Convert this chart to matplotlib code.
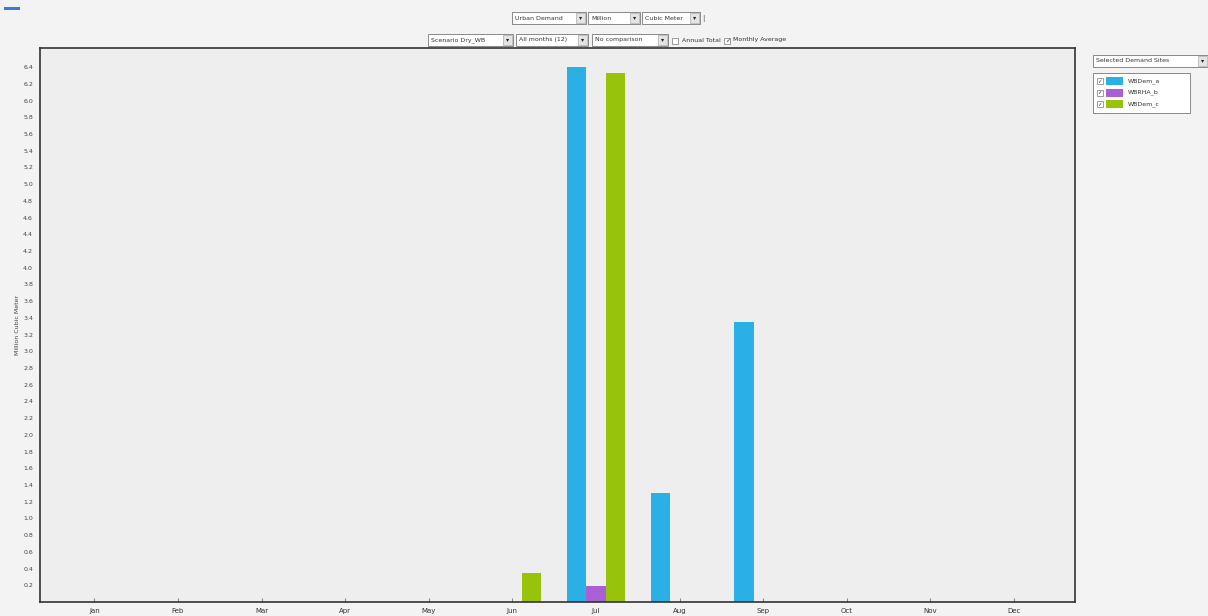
import matplotlib
matplotlib.use("Agg")
import matplotlib.pyplot as plt
from matplotlib.patches import Rectangle
import numpy as np

months = ["Jan", "Feb", "Mar", "Apr", "May", "Jun", "Jul", "Aug", "Sep", "Oct", "Nov", "Dec"]
series_names = ["WBDem_a", "WBRHA_b", "WBDem_c"]
series_a = [0, 0, 0, 0, 0, 0, 6.40, 1.31, 3.35, 0, 0, 0]
series_b = [0, 0, 0, 0, 0, 0, 0.19, 0, 0, 0, 0, 0]
series_c = [0, 0, 0, 0, 0, 0.35, 6.33, 0, 0, 0, 0, 0]
colors = ["#2bb0e6", "#a95fd6", "#97c40a"]
y_ticks = [round(0.2 * i, 1) for i in range(1, 33)]

W, H = 1208, 616
fig = plt.figure(figsize=(W / 100, H / 100), dpi=100, facecolor="#f3f3f3")

def fx(px):
    return px / W

def fy(py):
    return 1 - py / H

ax = fig.add_axes([fx(40), fy(602), fx(1075 - 40), (602 - 48) / H])
ax.set_facecolor("#eeeeee")
x = np.arange(len(months))
bw = 0.23
for i, (vals, c) in enumerate(zip([series_a, series_b, series_c], colors)):
    ax.bar(x + (i - 1) * bw, vals, width=bw, color=c, edgecolor="none")
ax.set_xlim(-0.65, 11.73)
ax.set_ylim(0, 6.63)
ax.set_xticks(x)
ax.set_xticklabels(months, fontsize=5, color="#333333")
ax.set_yticks(y_ticks)
ax.set_yticklabels([f"{v:.1f}" for v in y_ticks], fontsize=4.5, color="#444444")
ax.tick_params(axis="x", direction="in", length=3, pad=4, color="#888888")
ax.tick_params(axis="y", direction="out", length=0, pad=5)
for s in ax.spines.values():
    s.set_color("#333333")
    s.set_linewidth(1.2)
ax.set_ylabel("Million Cubic Meter", fontsize=4.5, color="#444444", labelpad=2)

# header controls
def box(x0, y0, w, h, text, arrow=True, fs=4.5):
    fig.patches.append(Rectangle((fx(x0), fy(y0 + h)), w / W, h / H, transform=fig.transFigure,
                                 facecolor="white", edgecolor="#777777", lw=0.6))
    fig.text(fx(x0 + 3), fy(y0 + h / 2), text, fontsize=fs, va="center", ha="left", color="#333333")
    if arrow:
        fig.patches.append(Rectangle((fx(x0 + w - 10), fy(y0 + h - 1)), 9 / W, (h - 2) / H,
                                     transform=fig.transFigure, facecolor="#e4e4e4",
                                     edgecolor="#999999", lw=0.4))
        fig.text(fx(x0 + w - 5.5), fy(y0 + h / 2), "▾", fontsize=4.5, va="center", ha="center", color="#222222")

box(512, 12, 74, 12, "Urban Demand")
box(588, 12, 52, 12, "Million")
box(642, 12, 58, 12, "Cubic Meter")
fig.text(fx(702), fy(18), "|", fontsize=5, va="center", color="#555555")
box(428, 34, 85, 12, "Scenario Dry_WB")
box(516, 34, 72, 12, "All months (12)")
box(592, 34, 76, 12, "No comparison")
fig.patches.append(Rectangle((fx(672), fy(44)), 6 / W, 6 / H, transform=fig.transFigure,
                             facecolor="white", edgecolor="#777777", lw=0.5))
fig.text(fx(682), fy(40), "Annual Total", fontsize=4.5, va="center", color="#333333")
fig.patches.append(Rectangle((fx(724), fy(44)), 6 / W, 6 / H, transform=fig.transFigure,
                             facecolor="white", edgecolor="#777777", lw=0.5))
fig.text(fx(725), fy(40.5), "✓", fontsize=4.5, va="center", color="#333333")
fig.text(fx(733), fy(40), "Monthly Average", fontsize=4.5, va="center", color="#333333")

# small blue mark top-left
fig.patches.append(Rectangle((fx(4), fy(10)), 16 / W, 3 / H, transform=fig.transFigure,
                             facecolor="#3a7bd5", edgecolor="none"))

# legend area
box(1093, 55, 115, 12, "Selected Demand Sites")
fig.patches.append(Rectangle((fx(1093), fy(113)), 97 / W, 40 / H, transform=fig.transFigure,
                             facecolor="white", edgecolor="#777777", lw=0.6))
for i, (name, c) in enumerate(zip(series_names, colors)):
    yc = 81 + i * 11.5
    fig.patches.append(Rectangle((fx(1097), fy(yc + 3)), 6 / W, 6 / H, transform=fig.transFigure,
                                 facecolor="white", edgecolor="#777777", lw=0.5))
    fig.text(fx(1097.5), fy(yc + 0.5), "✓", fontsize=4, va="center", color="#333333")
    fig.patches.append(Rectangle((fx(1106), fy(yc + 4)), 17 / W, 8 / H, transform=fig.transFigure,
                                 facecolor=c, edgecolor="none"))
    fig.text(fx(1128), fy(yc), name, fontsize=4.5, va="center", color="#333333")

fig.savefig("out.png", dpi=100, facecolor=fig.get_facecolor())
